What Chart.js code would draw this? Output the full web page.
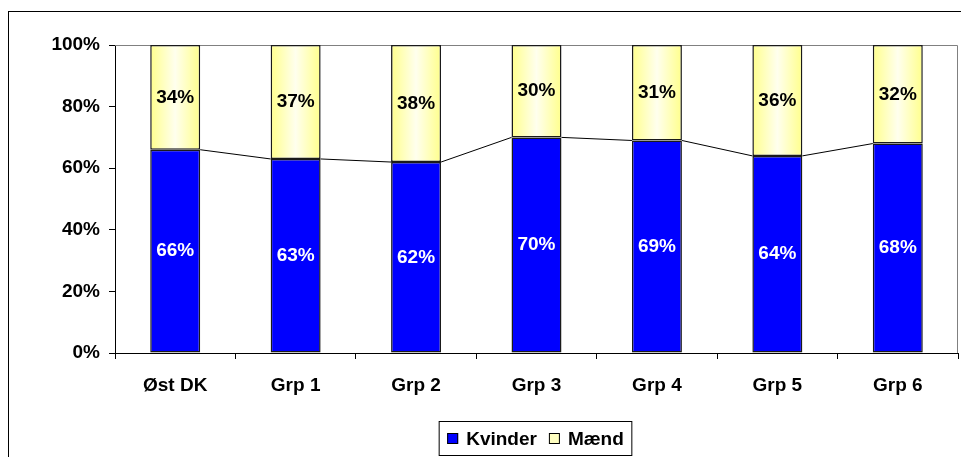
<!DOCTYPE html>
<html lang="da">
<head>
  <meta charset="UTF-8">
  <title>Kvinder / Mænd</title>
  <script src="https://cdn.jsdelivr.net/npm/chart.js"></script>
  <style>
    body { margin: 0; background: #fff; }
    #wrap { width: 961px; height: 457px; }
  </style>
</head>
<body>
  <div id="wrap"><canvas id="chart"></canvas></div>
  <script>
    const categories = ['Øst DK', 'Grp 1', 'Grp 2', 'Grp 3', 'Grp 4', 'Grp 5', 'Grp 6'];
    const kvinder = [66, 63, 62, 70, 69, 64, 68];
    const maend = [34, 37, 38, 30, 31, 36, 32];
    const yTicks = [0, 20, 40, 60, 80, 100];

    const FONT = { family: '"Liberation Sans", Arial, sans-serif', size: 19, weight: 'bold' };
    const BAR_PCT = 0.415;

    // yellow bars: light yellow edges, whitish middle
    function yellowFill(ctx) {
      const x = ctx.chart.scales.x;
      if (!x || ctx.dataIndex === undefined) return '#FFFFAA';
      const cx = x.getPixelForValue(ctx.dataIndex);
      const half = (x.getPixelForValue(1) - x.getPixelForValue(0)) * BAR_PCT / 2;
      if (!isFinite(cx) || !isFinite(half) || half <= 0) return '#FFFFAA';
      const g = ctx.chart.ctx.createLinearGradient(cx - half, 0, cx + half, 0);
      g.addColorStop(0, '#FFFF8C');
      g.addColorStop(0.5, '#FFFFEE');
      g.addColorStop(1, '#FFFF8C');
      return g;
    }

    const extras = {
      id: 'extras',
      beforeDatasetsDraw(chart) {
        const { ctx, chartArea: a } = chart;
        ctx.save();
        // plot area border (top / right in gray)
        ctx.strokeStyle = '#808080';
        ctx.lineWidth = 1;
        ctx.beginPath();
        ctx.moveTo(a.left, a.top + 0.5);
        ctx.lineTo(a.right - 0.5, a.top + 0.5);
        ctx.lineTo(a.right - 0.5, a.bottom);
        ctx.stroke();
        ctx.restore();
      },
      afterDatasetsDraw(chart) {
        const { ctx } = chart;
        const blue = chart.getDatasetMeta(0).data;
        const yel = chart.getDatasetMeta(1).data;
        ctx.save();
        // series lines between the tops of the blue bars
        ctx.strokeStyle = '#000';
        ctx.lineWidth = 1;
        ctx.beginPath();
        for (let i = 0; i < blue.length - 1; i++) {
          const a = blue[i], b = blue[i + 1];
          ctx.moveTo(a.x + a.width / 2, a.y);
          ctx.lineTo(b.x - b.width / 2, b.y);
        }
        ctx.stroke();
        // value labels
        ctx.font = `${FONT.weight} ${FONT.size}px ${FONT.family}`;
        ctx.textAlign = 'center';
        ctx.textBaseline = 'middle';
        blue.forEach((el, i) => {
          ctx.fillStyle = '#fff';
          ctx.fillText(kvinder[i] + '%', el.x, (el.y + el.base) / 2);
        });
        yel.forEach((el, i) => {
          ctx.fillStyle = '#000';
          ctx.fillText(maend[i] + '%', el.x, (el.y + el.base) / 2);
        });
        ctx.restore();
      },
      afterDraw(chart) {
        const { ctx } = chart;
        ctx.save();
        // outer frame
        ctx.strokeStyle = '#000';
        ctx.lineWidth = 1;
        ctx.strokeRect(8.5, 11.5, 1200, 1000);
        // legend
        const ds = chart.data.datasets;
        const colors = ['#0000FF', '#FFFFC0'];
        ctx.font = `${FONT.weight} ${FONT.size}px ${FONT.family}`;
        const box = 11, gap = 8, sep = 12;
        const widths = ds.map(d => box + gap + ctx.measureText(d.label).width);
        const total = widths.reduce((s, w) => s + w, 0) + sep;
        const cx = 535.5, top = 421.5, h = 34;
        ctx.fillStyle = '#fff';
        ctx.strokeStyle = '#000';
        ctx.fillRect(cx - total / 2 - 8, top, total + 16, h);
        ctx.strokeRect(cx - total / 2 - 8, top, total + 16, h);
        let x = cx - total / 2;
        const my = top + h / 2;
        ds.forEach((d, i) => {
          ctx.fillStyle = colors[i];
          ctx.fillRect(x, my - box / 2, box, box);
          ctx.strokeRect(x + 0.5, my - box / 2 + 0.5, box - 1, box - 1);
          ctx.fillStyle = '#000';
          ctx.textBaseline = 'middle';
          ctx.fillText(d.label, x + box + gap, my + 1);
          x += widths[i] + sep;
        });
        ctx.restore();
      }
    };

    new Chart(document.getElementById('chart'), {
      type: 'bar',
      data: {
        labels: categories,
        datasets: [
          {
            label: 'Kvinder',
            data: kvinder,
            backgroundColor: '#0000FF',
            borderColor: '#1a1a1a',
            borderWidth: 1.5,
            borderSkipped: false
          },
          {
            label: 'Mænd',
            data: maend,
            backgroundColor: yellowFill,
            borderColor: '#1a1a1a',
            borderWidth: 1.5,
            borderSkipped: false
          }
        ]
      },
      options: {
        responsive: true,
        maintainAspectRatio: false,
        animation: false,
        datasets: { bar: { categoryPercentage: 1, barPercentage: BAR_PCT } },
        layout: { padding: { top: 45, right: 3, left: 0, bottom: 0 } },
        plugins: { legend: { display: false }, tooltip: { enabled: false } },
        scales: {
          x: {
            stacked: true,
            afterFit: s => { s.height = 104; },
            grid: { offset: true, drawOnChartArea: false, drawTicks: true, tickLength: 6, color: '#000' },
            border: { color: '#000', width: 1 },
            ticks: { color: '#000', font: FONT, padding: 15, maxRotation: 0 }
          },
          y: {
            stacked: true,
            min: 0,
            max: 100,
            afterFit: s => { s.width = 115; },
            afterBuildTicks: s => { s.ticks = yTicks.map(v => ({ value: v })); },
            grid: { drawOnChartArea: false, drawTicks: true, tickLength: 6, color: '#000' },
            border: { color: '#000', width: 1 },
            ticks: { color: '#000', font: FONT, padding: 9, callback: v => v + '%' }
          }
        }
      },
      plugins: [extras]
    });
  </script>
</body>
</html>
